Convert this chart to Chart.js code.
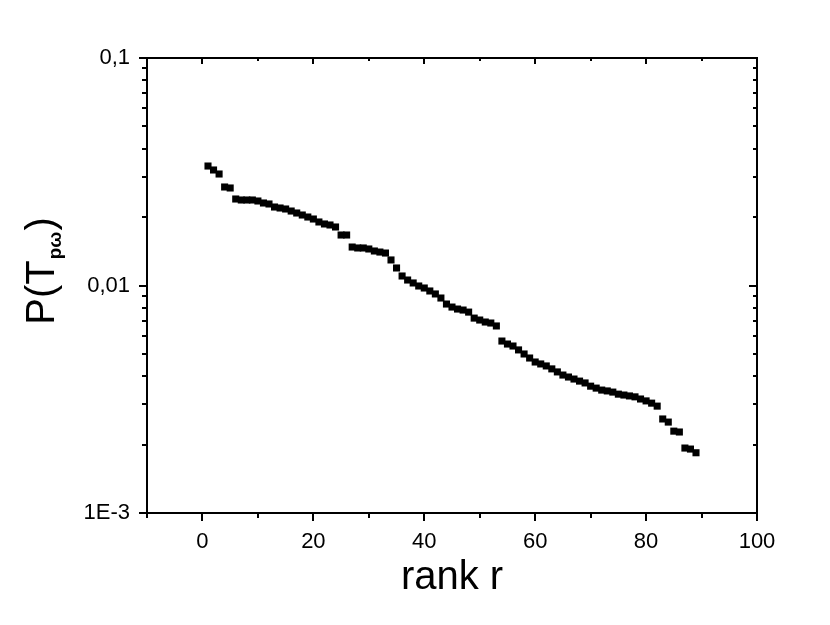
<!DOCTYPE html>
<html>
<head>
<meta charset="utf-8">
<script src="https://cdn.jsdelivr.net/npm/chart.js@4.4.1/dist/chart.umd.min.js"></script>
<style>
  html, body { margin: 0; padding: 0; background: #ffffff; }
  #wrap { width: 830px; height: 625px; }
</style>
</head>
<body>
<div id="wrap"><canvas id="c" width="830" height="625"></canvas></div>
<script>
// ---- data ----
const ranks = [];
for (let r = 1; r <= 89; r++) ranks.push(r);
const probabilities = [
  0.03351, 0.03219, 0.03091, 0.02710, 0.02683, 0.02400, 0.02376, 0.02376, 0.02376, 0.02352,
  0.02305, 0.02282, 0.02213, 0.02191, 0.02169, 0.02125, 0.02083, 0.02041, 0.02000, 0.01960,
  0.01902, 0.01864, 0.01845, 0.01808, 0.01667, 0.01667, 0.01476, 0.01462, 0.01462, 0.01447,
  0.01418, 0.01403, 0.01389, 0.01295, 0.01194, 0.01101, 0.01057, 0.01026, 0.00995, 0.00975,
  0.00946, 0.00918, 0.00881, 0.00829, 0.00804, 0.00788, 0.00780, 0.00764, 0.00719, 0.00705,
  0.00691, 0.00684, 0.00664, 0.00570, 0.00553, 0.00542, 0.00521, 0.00500, 0.00480, 0.00461,
  0.00452, 0.00443, 0.00430, 0.00417, 0.00404, 0.00396, 0.00388, 0.00380, 0.00373, 0.00361,
  0.00354, 0.00347, 0.00344, 0.00340, 0.00333, 0.00330, 0.00327, 0.00324, 0.00317, 0.00311,
  0.00304, 0.00295, 0.00259, 0.00251, 0.00229, 0.00227, 0.00193, 0.00191, 0.00184
];
const xTickLabels = ['0', '20', '40', '60', '80', '100'];
const yTickValues = [0.1, 0.01, 0.001];
const yTickLabels = ['0,1', '0,01', '1E-3'];
const xTitle = 'rank r';
const yTitleMain = 'P(T';
const yTitleSub = 'pω';
const yTitleEnd = ')';

const points = ranks.map((r, i) => ({ x: r, y: probabilities[i] }));

const FONT = '"Liberation Sans", Arial, sans-serif';

const framePlugin = {
  id: 'frame',
  afterDraw(chart) {
    const { ctx, chartArea: a, scales } = chart;
    const xs = scales.x, ys = scales.y;
    ctx.save();
    ctx.strokeStyle = '#000';
    ctx.lineWidth = 2;
    ctx.strokeRect(a.left, a.top, a.right - a.left, a.bottom - a.top);
    ctx.beginPath();
    // x ticks (bottom outward, top inward)
    for (let v = -10; v <= 100; v += 10) {
      const px = Math.round(xs.getPixelForValue(v));
      const major = v % 20 === 0;
      ctx.moveTo(px, a.bottom); ctx.lineTo(px, a.bottom + (major ? 8 : 5));
      ctx.moveTo(px, a.top); ctx.lineTo(px, a.top + (major ? 6 : 3));
    }
    // y ticks (left outward, right inward)
    for (let e = -3; e <= -1; e++) {
      for (let m = 1; m <= 9; m++) {
        if (e === -1 && m > 1) break;
        const v = m * Math.pow(10, e);
        const py = Math.round(ys.getPixelForValue(v));
        const major = m === 1;
        ctx.moveTo(a.left - (major ? 8 : 5), py); ctx.lineTo(a.left, py);
        ctx.moveTo(a.right - (major ? 8 : 4), py); ctx.lineTo(a.right, py);
      }
    }
    ctx.stroke();
    // y axis title with subscript
    ctx.fillStyle = '#000';
    ctx.translate(40, 272);
    ctx.rotate(-Math.PI / 2);
    const big = '40px ' + FONT, small = 'bold 19px ' + FONT;
    ctx.font = big;
    const w1 = ctx.measureText(yTitleMain).width;
    ctx.font = small;
    const w2 = ctx.measureText(yTitleSub).width;
    ctx.font = big;
    const w3 = ctx.measureText(yTitleEnd).width;
    let sx = -(w1 + w2 + w3) / 2;
    ctx.textBaseline = 'alphabetic';
    ctx.textAlign = 'left';
    ctx.fillText(yTitleMain, sx, 14);
    ctx.font = small;
    ctx.fillText(yTitleSub, sx + w1 + 1, 21);
    ctx.font = big;
    ctx.fillText(yTitleEnd, sx + w1 + w2 + 2, 14);
    ctx.restore();
  }
};

new Chart(document.getElementById('c'), {
  type: 'scatter',
  data: {
    datasets: [{
      data: points,
      pointStyle: 'rect',
      pointRadius: 5,
      pointHoverRadius: 5,
      backgroundColor: '#000',
      borderWidth: 0
    }]
  },
  options: {
    responsive: false,
    animation: false,
    events: [],
    layout: { padding: { left: 0, top: 58, right: 73, bottom: 23 } },
    plugins: { legend: { display: false }, tooltip: { enabled: false } },
    scales: {
      x: {
        type: 'linear',
        min: -10, max: 100,
        grid: { display: false },
        border: { display: false },
        afterFit(s) { s.height = 89; },
        title: { display: true, text: xTitle, color: '#000', font: { family: FONT, size: 40 }, padding: { top: 0, bottom: 0 } },
        ticks: {
          stepSize: 10, autoSkip: false, maxRotation: 0, padding: 8,
          color: '#000', font: { family: FONT, size: 22 },
          callback: (v) => {
            const i = xTickLabels.indexOf(String(v));
            return i >= 0 ? xTickLabels[i] : '';
          }
        }
      },
      y: {
        type: 'logarithmic',
        min: 0.001, max: 0.1,
        grid: { display: false },
        border: { display: false },
        afterFit(s) { s.width = 147; },
        ticks: {
          autoSkip: false, padding: 9,
          color: '#000', font: { family: FONT, size: 22 },
          callback: (v) => {
            for (let i = 0; i < yTickValues.length; i++) {
              if (Math.abs(v - yTickValues[i]) / yTickValues[i] < 1e-6) return yTickLabels[i];
            }
            return '';
          }
        }
      }
    }
  },
  plugins: [framePlugin]
});
</script>
</body>
</html>
